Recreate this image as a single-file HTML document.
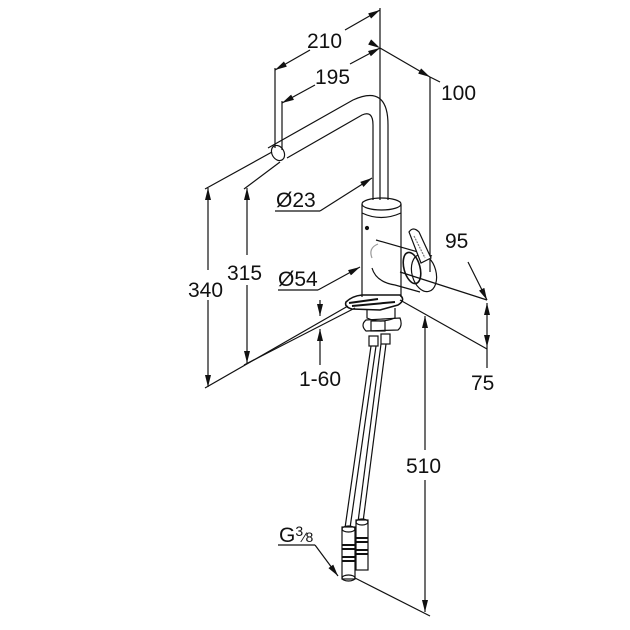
<!DOCTYPE html>
<html><head><meta charset="utf-8"><style>
html,body{margin:0;padding:0;background:#fff;}
svg{display:block;}
text{font-family:"Liberation Sans",sans-serif;font-size:21px;fill:#111;}
</style></head><body>
<svg width="630" height="630" viewBox="0 0 630 630" xmlns="http://www.w3.org/2000/svg">
<defs>
<marker id="a" viewBox="0 0 12 6" refX="12" refY="3" markerWidth="13" markerHeight="6" orient="auto" markerUnits="userSpaceOnUse"><path d="M0,0 L12,3 L0,6 z" fill="#111"/></marker>
</defs>
<g stroke="#111" stroke-width="1.2" fill="none">
<line x1="380" y1="8" x2="380" y2="200"/>
<line x1="345" y1="30" x2="380" y2="10" marker-end="url(#a)"/>
<line x1="310" y1="50" x2="275" y2="70" marker-end="url(#a)"/>
<line x1="275" y1="68" x2="275" y2="148"/>
<line x1="350" y1="64" x2="380" y2="48" marker-end="url(#a)"/>
<line x1="315" y1="85" x2="282" y2="103" marker-end="url(#a)"/>
<line x1="282" y1="101" x2="282" y2="150"/>
<line x1="380" y1="48" x2="430" y2="77" marker-end="url(#a)" marker-start="url(#a)"/>
<line x1="430" y1="77" x2="440" y2="82"/>
<line x1="430" y1="77" x2="430" y2="272"/>
<path d="M268,148 L353,100 Q388,84 388,125 L388,200"/>
<path d="M287,158 L362,115 Q373,110 373,125 L373,200"/>
<ellipse cx="278" cy="153" rx="6" ry="8" transform="rotate(-30 278 153)"/>
<line x1="275" y1="211" x2="320" y2="211"/>
<line x1="320" y1="211" x2="372" y2="178" marker-end="url(#a)"/>
<line x1="362" y1="204" x2="362" y2="297"/>
<line x1="401" y1="204" x2="401" y2="297"/>
<ellipse cx="381.5" cy="204" rx="19.5" ry="6"/>
<path d="M362,213 Q381,222 401,213"/>
<circle cx="367" cy="228" r="1.5" fill="#111"/>
<path d="M376,240 L432,256"/>
<path d="M372,268 Q376,282 395,285 L420,292"/>
<path d="M372,258 Q368,248 378,244" stroke="#999"/>
<ellipse cx="424" cy="273" rx="12" ry="19" transform="rotate(-15 424 273)"/>
<ellipse cx="412" cy="268" rx="8" ry="16" transform="rotate(-15 412 268)" stroke-width="1.6"/>
<path d="M409,232 Q413,226 419,232 L431,258 L421,263 Z" fill="#fff"/>
<line x1="414" y1="236" x2="425" y2="258" stroke="#777" stroke-dasharray="2,1"/>
<line x1="278" y1="290" x2="318" y2="290"/>
<line x1="318" y1="290" x2="360" y2="267" marker-end="url(#a)"/>
<path d="M346,302 Q352,296 362,295 L400,295 Q406,300 398,305 L380,310 L352,309 Q344,307 346,302 Z" stroke-width="1.6"/>
<path d="M349,303 L378,299 M352,306 L395,302" stroke-width="2"/>
<path d="M367,310 L367,318 Q380,324 395,318 L395,308"/>
<path d="M366,320 L400,318 Q403,326 398,330 L366,331 Q360,325 366,320 Z"/>
<rect x="371" y="321" width="14" height="10"/>
<rect x="369" y="336" width="9" height="10"/>
<rect x="381" y="334" width="9" height="10"/>
<line x1="371" y1="346" x2="345" y2="528"/>
<line x1="376" y1="346" x2="350" y2="528"/>
<line x1="381" y1="344" x2="358" y2="522"/>
<line x1="386" y1="344" x2="363" y2="522"/>
<rect x="356" y="520" width="12" height="50" fill="#fff"/>
<ellipse cx="362" cy="522" rx="6" ry="3"/>
<path d="M356,538 h12 M356,542 h12 M356,550 h12 M356,554 h12" stroke-width="2"/>
<rect x="342" y="527" width="13" height="52" fill="#fff"/>
<ellipse cx="348.5" cy="529" rx="6.5" ry="3"/>
<path d="M342,545 h13 M342,549 h13 M342,557 h13 M342,561 h13" stroke-width="2"/>
<ellipse cx="348.5" cy="578" rx="6.5" ry="3"/>
<line x1="278" y1="545" x2="315" y2="545"/>
<line x1="315" y1="545" x2="338" y2="576" marker-end="url(#a)"/>
<line x1="425" y1="450" x2="425" y2="316" marker-end="url(#a)"/>
<line x1="425" y1="480" x2="425" y2="612" marker-end="url(#a)"/>
<line x1="355" y1="578" x2="430" y2="616"/>
<line x1="208" y1="270" x2="208" y2="188" marker-end="url(#a)"/>
<line x1="208" y1="300" x2="208" y2="387" marker-end="url(#a)"/>
<line x1="205" y1="189" x2="272" y2="152"/>
<line x1="205" y1="388" x2="348" y2="306"/>
<line x1="247" y1="255" x2="247" y2="188" marker-end="url(#a)"/>
<line x1="247" y1="285" x2="247" y2="363" marker-end="url(#a)"/>
<line x1="244" y1="189" x2="280" y2="162"/>
<line x1="244" y1="365" x2="355" y2="308"/>
<line x1="320" y1="300" x2="320" y2="316" marker-end="url(#a)"/>
<line x1="320" y1="365" x2="320" y2="329" marker-end="url(#a)"/>
<line x1="400" y1="272" x2="487" y2="300"/>
<line x1="400" y1="300" x2="487" y2="349"/>
<line x1="468" y1="262" x2="487" y2="300" marker-end="url(#a)"/>
<line x1="487" y1="325" x2="487" y2="303" marker-end="url(#a)"/>
<line x1="487" y1="325" x2="487" y2="347" marker-end="url(#a)"/>
<line x1="487" y1="347" x2="487" y2="368"/>
</g>
<text x="307" y="48">210</text>
<text x="315" y="84">195</text>
<text x="441" y="100">100</text>
<text x="276" y="207">Ø23</text>
<text x="445" y="248">95</text>
<text x="278" y="286">Ø54</text>
<text x="227" y="280">315</text>
<text x="188" y="297">340</text>
<text x="299" y="386">1-60</text>
<text x="471" y="390">75</text>
<text x="406" y="473">510</text>
<text x="279" y="542">G<tspan font-size="14" dy="-6">3</tspan><tspan font-size="14" dy="6">⁄8</tspan></text>
</svg>
</body></html>
